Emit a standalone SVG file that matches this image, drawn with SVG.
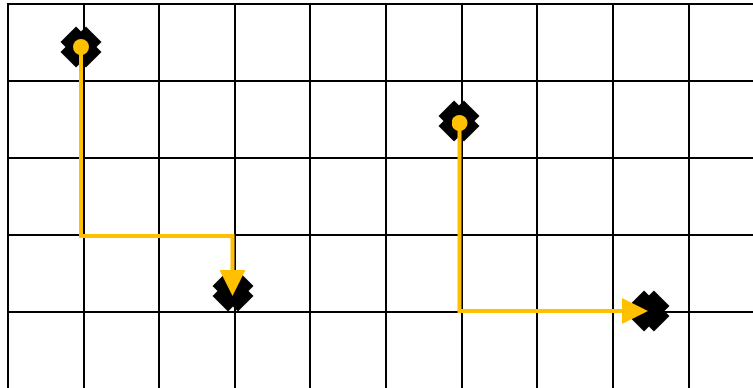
<svg xmlns="http://www.w3.org/2000/svg" xmlns:xlink="http://www.w3.org/1999/xlink" width="753" height="388" viewBox="0 0 753 388">
  <style>
    .grid line { stroke: #000; stroke-width: 2; }
    .conn { fill: none; stroke: #FFC000; stroke-width: 4; stroke-linejoin: miter; }
    .node { fill: #000; }
  </style>
  <defs>
    <g id="xshape">
      <rect x="-18" y="-11" width="36" height="22" transform="rotate(45)"/>
      <rect x="-18" y="-11" width="36" height="22" transform="rotate(-45)"/>
    </g>
    <marker id="arrow" viewBox="0 0 26 26" refX="0" refY="13" markerWidth="26" markerHeight="26" markerUnits="userSpaceOnUse" orient="auto">
      <path d="M0,0 L26,13 L0,26 z" fill="#FFC000"/>
    </marker>
    <marker id="dot" viewBox="0 0 16 16" refX="8" refY="8" markerWidth="16" markerHeight="16" markerUnits="userSpaceOnUse" orient="auto">
      <circle cx="8" cy="8" r="8" fill="#FFC000"/>
    </marker>
  </defs>
  <rect width="753" height="388" fill="#fff"/>
  <g class="grid">
    <line x1="8" y1="3" x2="8" y2="388"/>
    <line x1="84" y1="4" x2="84" y2="388"/>
    <line x1="159" y1="4" x2="159" y2="388"/>
    <line x1="235" y1="4" x2="235" y2="388"/>
    <line x1="310" y1="4" x2="310" y2="388"/>
    <line x1="386" y1="4" x2="386" y2="388"/>
    <line x1="462" y1="4" x2="462" y2="388"/>
    <line x1="537" y1="4" x2="537" y2="388"/>
    <line x1="613" y1="4" x2="613" y2="388"/>
    <line x1="689" y1="4" x2="689" y2="388"/>
    <line x1="7" y1="4" x2="753" y2="4"/>
    <line x1="8" y1="81" x2="753" y2="81"/>
    <line x1="8" y1="158" x2="753" y2="158"/>
    <line x1="8" y1="235" x2="753" y2="235"/>
    <line x1="8" y1="312" x2="753" y2="312"/>
  </g>
  <g id="node1" class="node"><use xlink:href="#xshape" href="#xshape" transform="translate(81,47)"/></g>
  <g id="node2" class="node"><use xlink:href="#xshape" href="#xshape" transform="translate(233,291)"/></g>
  <g id="node3" class="node"><use xlink:href="#xshape" href="#xshape" transform="translate(459,121)"/></g>
  <g id="node4" class="node"><use xlink:href="#xshape" href="#xshape" transform="translate(649,311)"/></g>
  <g id="connectors">
    <path class="conn" d="M81,47 V236 H232.5 V270" marker-start="url(#dot)" marker-end="url(#arrow)"/>
    <path class="conn" d="M459.5,123 V311 H622" marker-start="url(#dot)" marker-end="url(#arrow)"/>
  </g>
</svg>
